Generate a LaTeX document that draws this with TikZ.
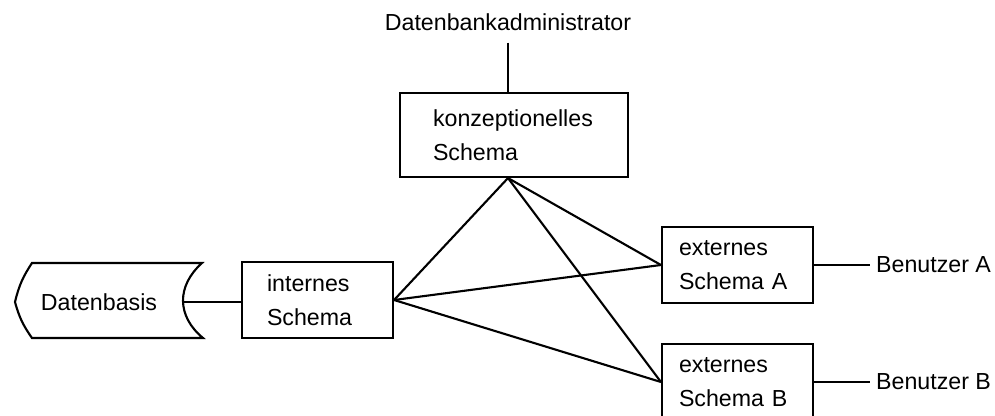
\documentclass[tikz,border=0pt]{standalone}
\usepackage{fontspec}
\setmainfont{Liberation Sans}
\usepackage{tikz}
\usetikzlibrary{positioning, calc}
\tikzset{
  schemabox/.style={rectangle, draw=black, align=left, line width=1.2pt,
    font=\fontsize{13.2}{19.3}\selectfont, inner ysep=0pt},
  lbl/.style={font=\fontsize{13.2}{16}\selectfont},
  conn/.style={line width=1.2pt, color=black}
}
\begin{document}
\begin{tikzpicture}
  \useasboundingbox (0,0) rectangle (19.9,8.32);
  \clip (0,0) rectangle (19.9,8.32);

  % Datenbasis (Speichersymbol)
  \draw[conn] (0.64,3.06) -- (4.04,3.06)
    .. controls (3.53,2.6) and (3.53,2.0) .. (4.06,1.56)
    -- (0.64,1.56) to[bend left=10] (0.30,2.28) to[bend left=10] cycle;
  \coordinate (basisrand) at (3.66,2.28);
  \node[lbl] (basis) at (1.98,2.28) {Datenbasis};

  % Schemata
  \node[schemabox, text width=3.24cm, inner xsep=0.66cm, minimum height=1.68cm] (konz) at (10.28,5.62) {konzeptionelles\\Schema};
  \node[schemabox, text width=2.02cm, inner xsep=0.5cm, minimum height=1.52cm] (intern) at (6.35,2.32) {internes\\Schema};
  \node[schemabox, text width=2.34cm, inner xsep=0.34cm, minimum height=1.52cm] (extA) at (14.75,3.02) {externes\\Schema A};
  \node[schemabox, text width=2.34cm, inner xsep=0.34cm, minimum height=1.52cm] (extB) at (14.75,0.68) {externes\\Schema B};

  % Personen
  \node[lbl] (admin) at (10.16,7.88) {Datenbankadministrator};
  \node[lbl, anchor=west] (benA) at (17.40,3.02) {Benutzer A};
  \node[lbl, anchor=west] (benB) at (17.40,0.68) {Benutzer B};

  \coordinate (konzfuss) at (admin.south |- konz.south);

  % Verbindungen
  \draw[conn] (admin.south) ++(0,-0.12) coordinate (adminfuss) -- (adminfuss |- konz.north);
  \draw[conn] (basisrand) -- (basisrand -| intern.west);
  \draw[conn] (konzfuss) -- (intern.east);
  \draw[conn] (konzfuss) -- (extA.west);
  \draw[conn] (konzfuss) -- (extB.west);
  \draw[conn] (intern.east) -- (extA.west);
  \draw[conn] (intern.east) -- (extB.west);
  \draw[conn] (extA.east) -- (benA.west);
  \draw[conn] (extB.east) -- (benB.west);
\end{tikzpicture}
\end{document}
